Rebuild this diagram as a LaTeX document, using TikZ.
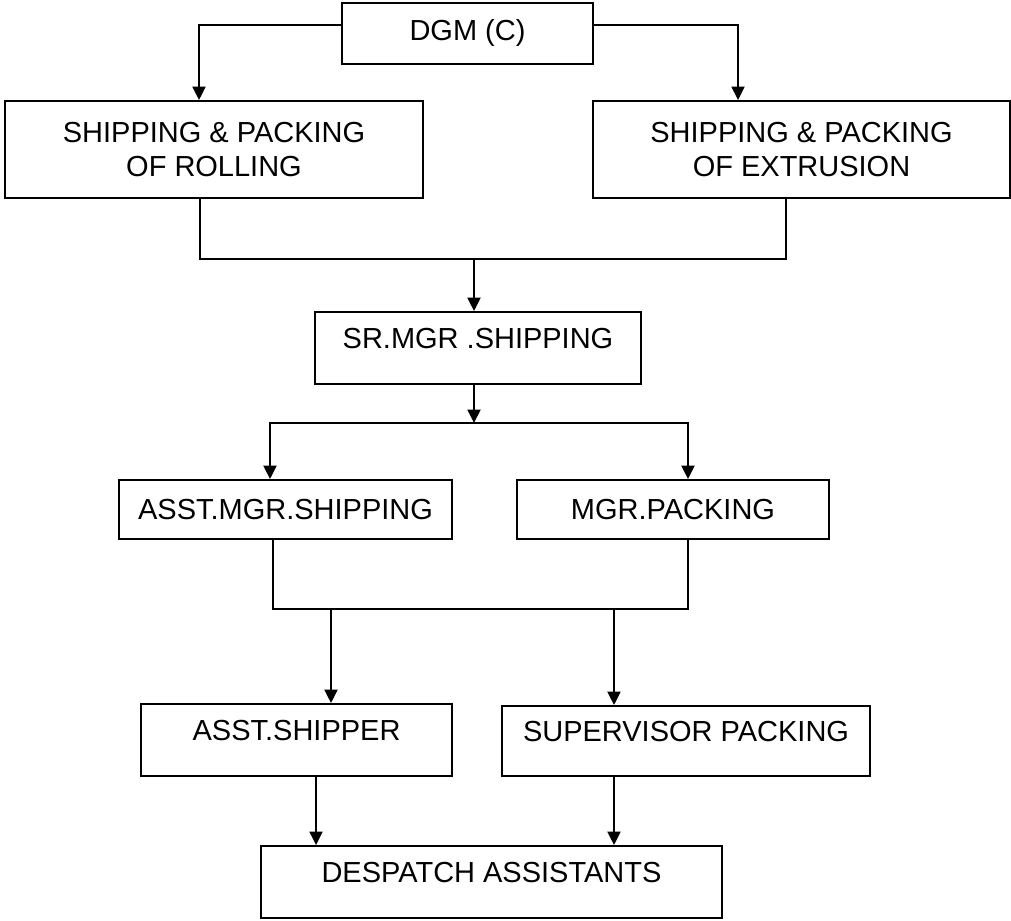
\documentclass[tikz,border=0pt]{standalone}
\usepackage{fontspec}
\setmainfont{Liberation Sans}
\usetikzlibrary{arrows.meta}

\begin{document}
\begin{tikzpicture}[
        x=0.02cm, y=-0.02cm,
        post/.style={draw, line width=1.1pt, inner sep=0pt, align=center,
            font=\fontsize{16.5}{18.8}\selectfont},
        oneline/.style={text height=0.4cm},
        lifted/.style={text height=0.4cm, text depth=0.4cm},
        flow/.style={-{Triangle[length=0.27cm,width=0.26cm]}, line width=1.1pt}
    ]
    \useasboundingbox (0,0) rectangle (1011,920);

    % boxes
    \node[post, oneline, minimum width=5.02cm, minimum height=1.22cm] (dgm) at (467.5,33.5) {DGM (C)};
    \node[post, minimum width=8.36cm, minimum height=1.94cm] (roll) at (214,149.5) {SHIPPING \& PACKING\\OF ROLLING};
    \node[post, minimum width=8.34cm, minimum height=1.94cm] (extr) at (801.5,149.5) {SHIPPING \& PACKING\\OF EXTRUSION};
    \node[post, lifted, minimum width=6.52cm, minimum height=1.44cm] (srmgr) at (478,348) {SR.MGR .SHIPPING};
    \node[post, oneline, minimum width=6.66cm, minimum height=1.18cm] (asstmgr) at (285.5,509.5) {ASST.MGR.SHIPPING};
    \node[post, oneline, minimum width=6.24cm, minimum height=1.18cm] (mgrpack) at (673,509.5) {MGR.PACKING};
    \node[post, lifted, minimum width=6.22cm, minimum height=1.44cm] (asstship) at (296.5,740) {ASST.SHIPPER};
    \node[post, lifted, minimum width=7.36cm, minimum height=1.40cm] (superv) at (686,741) {SUPERVISOR PACKING};
    \node[post, lifted, minimum width=9.22cm, minimum height=1.44cm] (desp) at (491.5,882) {DESPATCH ASSISTANTS};

    % junctions
    \coordinate (j1) at (474,259);
    \coordinate (j2) at (474,423);
    \coordinate (j3) at (331,609);
    \coordinate (j4) at (614,609);

    % connectors
    \draw[flow] ([yshift=0.17cm]dgm.west) -| ([xshift=-0.3cm]roll.north);
    \draw[flow] ([yshift=0.17cm]dgm.east) -| ([xshift=-1.27cm]extr.north);
    \draw[line width=1.1pt] ([xshift=-0.28cm]roll.south) |- (j1) -| ([xshift=-0.31cm]extr.south);
    \draw[flow] (j1) -- (j1 |- srmgr.north);
    \draw[flow] (j1 |- srmgr.south) -- (j2);
    \draw[flow] (j2) -| ([xshift=-0.31cm]asstmgr.north);
    \draw[flow] (j2) -| ([xshift=0.3cm]mgrpack.north);
    \draw[line width=1.1pt] ([xshift=-0.25cm]asstmgr.south) |- (j3) -- (j4) -| ([xshift=0.3cm]mgrpack.south);
    \draw[flow] (j3) -- (j3 |- asstship.north);
    \draw[flow] (j4) -- (j4 |- superv.north);
    \draw[flow] ([xshift=0.39cm]asstship.south) -- ([xshift=-3.51cm]desp.north);
    \draw[flow] (j4 |- superv.south) -- (j4 |- desp.north);
\end{tikzpicture}
\end{document}
